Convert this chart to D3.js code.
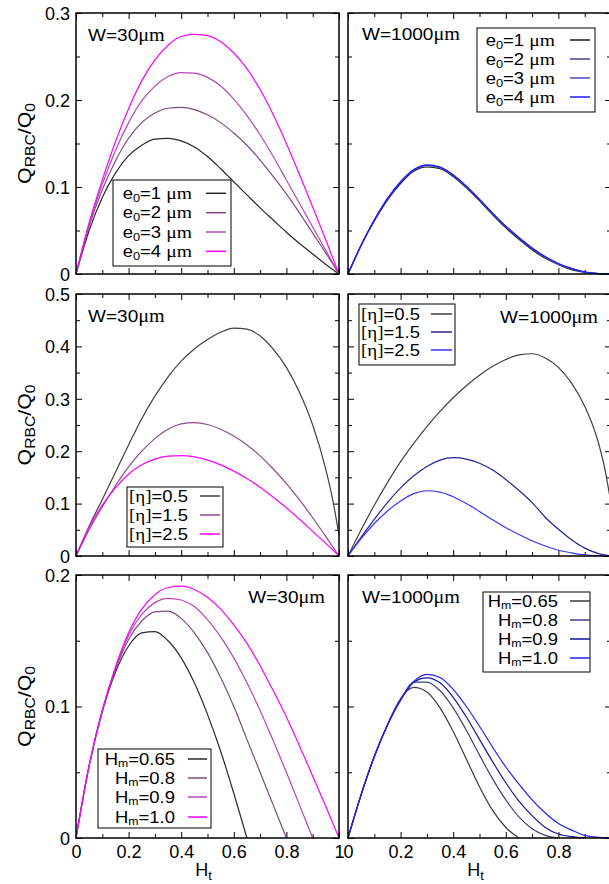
<!DOCTYPE html>
<html><head><meta charset="utf-8">
<script src="https://cdn.jsdelivr.net/npm/d3@7"></script>
<style>body{margin:0;background:#fff}svg{display:block}</style>
</head><body>
<svg id="c" width="609" height="884"></svg>
<script>
// ---------- data ----------
const H  = [0,0.05,0.1,0.15,0.2,0.25,0.3,0.35,0.4,0.45,0.5,0.55,0.6,0.65,0.7,0.75,0.8,0.85,0.9,0.95,1];
const H3 = [0,0.05,0.1,0.15,0.2,0.25,0.3,0.35,0.4,0.45,0.5,0.55,0.6,0.65,0.7,0.75,0.8,0.85,0.9,0.95,0.975,1];
const tickX = [0,0.2,0.4,0.6,0.8,1];
const tickXLabelsLeft  = ["0","0.2","0.4","0.6","0.8","1"];
const tickXLabelsRight = ["0","0.2","0.4","0.6","0.8",""];

// W=30um, e0 = 1..4
const w30_e0_1 = [0,0.05,0.088,0.116,0.136,0.148,0.155,0.156,0.153,0.146,0.135,0.121,0.106,0.091,0.076,0.062,0.048,0.035,0.023,0.011,0];
const w30_e0_2 = [0,0.055,0.097,0.13,0.156,0.174,0.185,0.1905,0.1915,0.189,0.183,0.174,0.162,0.148,0.131,0.112,0.092,0.07,0.047,0.024,0];
const w30_e0_3 = [0,0.057,0.103,0.142,0.174,0.199,0.216,0.227,0.2315,0.231,0.226,0.216,0.201,0.182,0.16,0.135,0.108,0.081,0.054,0.027,0];
const w30_e0_4 = [0,0.059,0.108,0.152,0.19,0.222,0.246,0.263,0.273,0.2755,0.274,0.267,0.254,0.236,0.212,0.183,0.15,0.114,0.077,0.039,0];
// W=1000um, e0 = 1..4
const w1000_e0_1 = [0,0.033,0.061,0.085,0.104,0.118,0.123,0.121,0.112,0.099,0.084,0.068,0.053,0.04,0.028,0.018,0.011,0.005,0.002,0.0005,0];
const w1000_e0_2 = [0,0.033,0.062,0.086,0.105,0.119,0.1245,0.122,0.113,0.1,0.085,0.069,0.054,0.041,0.029,0.019,0.011,0.006,0.002,0.0005,0];
const w1000_e0_3 = [0,0.033,0.062,0.086,0.106,0.1195,0.125,0.1225,0.1135,0.1005,0.0855,0.0695,0.0545,0.0415,0.0295,0.0195,0.0115,0.006,0.002,0.0005,0];
const w1000_e0_4 = [0,0.033,0.062,0.087,0.106,0.12,0.1255,0.123,0.114,0.101,0.086,0.07,0.055,0.042,0.03,0.02,0.012,0.0065,0.0025,0.0006,0];
// W=30um, [eta] = 0.5, 1.5, 2.5
const w30_eta_05 = [0,0.057,0.108,0.16,0.212,0.262,0.305,0.342,0.372,0.395,0.413,0.427,0.435,0.433,0.42,0.395,0.36,0.312,0.25,0.165,0.11,0.04];
const w30_eta_15 = [0,0.05,0.094,0.134,0.17,0.2,0.224,0.242,0.252,0.2545,0.251,0.242,0.229,0.212,0.191,0.166,0.138,0.107,0.073,0.037,0];
const w30_eta_25 = [0,0.055,0.097,0.13,0.156,0.174,0.185,0.1905,0.1915,0.189,0.183,0.174,0.162,0.148,0.131,0.112,0.092,0.07,0.047,0.024,0];
// W=1000um, [eta] = 0.5, 1.5, 2.5
const w1000_eta_05 = [0,0.05,0.097,0.14,0.18,0.215,0.247,0.276,0.302,0.325,0.345,0.362,0.375,0.384,0.386,0.378,0.36,0.33,0.286,0.22,0.17,0.1];
const w1000_eta_15 = [0,0.036,0.07,0.102,0.13,0.153,0.171,0.183,0.1877,0.185,0.177,0.164,0.146,0.125,0.102,0.074,0.051,0.031,0.015,0.005,0];
const w1000_eta_25 = [0,0.033,0.062,0.086,0.105,0.119,0.1245,0.122,0.113,0.1,0.085,0.069,0.054,0.041,0.029,0.019,0.011,0.006,0.002,0.0005,0];
// W=30um, Hm = 0.65, 0.8, 0.9, 1.0
const w30_hm_065 = [0,0.055,0.096,0.126,0.146,0.156,0.157,0.15,0.137,0.118,0.094,0.066,0.034,0];
const w30_hm_08  = [0,0.055,0.097,0.128,0.151,0.165,0.172,0.1725,0.167,0.156,0.141,0.122,0.1,0.075,0.05,0.025,0];
const w30_hm_09  = [0,0.055,0.097,0.129,0.154,0.17,0.179,0.1823,0.181,0.176,0.166,0.153,0.137,0.118,0.097,0.074,0.05,0.025,0];
const w30_hm_10  = [0,0.055,0.097,0.13,0.156,0.174,0.185,0.1905,0.1915,0.189,0.183,0.174,0.162,0.148,0.131,0.112,0.092,0.07,0.047,0.024,0];
// W=1000um, Hm = 0.65, 0.8, 0.9, 1.0
const w1000_hm_065 = [0,0.033,0.062,0.086,0.106,0.1145,0.111,0.099,0.081,0.06,0.039,0.021,0.008,0];
const w1000_hm_08  = [0,0.033,0.062,0.086,0.105,0.1185,0.1185,0.112,0.099,0.082,0.063,0.045,0.029,0.016,0.007,0.002,0];
const w1000_hm_09  = [0,0.033,0.062,0.086,0.105,0.1185,0.1218,0.118,0.107,0.092,0.075,0.058,0.042,0.028,0.017,0.008,0.003,0.001,0];
const w1000_hm_10  = [0,0.033,0.062,0.086,0.105,0.119,0.1245,0.122,0.113,0.1,0.085,0.069,0.054,0.041,0.029,0.019,0.011,0.006,0.002,0.0005,0];

const e0Labels  = ["1","2","3","4"];
const etaLabels = ["0.5","1.5","2.5"];
const hmLabels  = ["0.65","0.8","0.9","1.0"];
const yMax = [0.3, 0.5, 0.2];
const yTicks = [[0,0.1,0.2,0.3],[0,0.1,0.2,0.3,0.4,0.5],[0,0.1,0.2]];
const yTickLabels = [["0","0.1","0.2","0.3"],["0","0.1","0.2","0.3","0.4","0.5"],["0","0.1","0.2"]];

// ---------- layout ----------
const SANS = "'Liberation Sans', Arial, sans-serif";
const SERIF = "'Liberation Serif', 'Times New Roman', serif";
const SX = 1.12; // horizontal stretch of label glyphs
const cols = [[76,339],[348,611]];
const rows = [[13,274],[294,556],[575,838]];

const panels = [
 {c:0,r:0, kind:'e0', labels:e0Labels, xs:[H,H,H,H], ys:[w30_e0_1,w30_e0_2,w30_e0_3,w30_e0_4],
  colors:['#2a2a2a','#804a80','#bb44bb','#ff00ff'], W:'30', wx:88, wy:41, wa:'start',
  box:[113,180,231,266], rowsY:[193.3,212.7,232,251.3], tx:192, lx:[206,226]},
 {c:1,r:0, kind:'e0', labels:e0Labels, xs:[H,H,H,H], ys:[w1000_e0_1,w1000_e0_2,w1000_e0_3,w1000_e0_4],
  colors:['#1a1a1a','#45458a','#4a4ac0','#1a1aff'], W:'1000', wx:362, wy:40, wa:'start',
  box:[477,28,595,112], rowsY:[40,59,78,97], tx:555, lx:[570,590]},
 {c:0,r:1, kind:'eta', labels:etaLabels, xs:[H3,H,H], ys:[w30_eta_05,w30_eta_15,w30_eta_25],
  colors:['#404040','#8f4a8f','#ff00ff'], W:'30', wx:88, wy:322, wa:'start',
  box:[127,487,223,547], rowsY:[496,515,534], tx:188, lx:[200,220]},
 {c:1,r:1, kind:'eta', labels:etaLabels, xs:[H3,H,H], ys:[w1000_eta_05,w1000_eta_15,w1000_eta_25],
  colors:['#404040','#22229a','#3535ff'], W:'1000', wx:598, wy:323, wa:'end',
  box:[359,304,455,365], rowsY:[314,332,350], tx:420, lx:[431,452]},
 {c:0,r:2, kind:'hm', labels:hmLabels, xs:[H,H,H,H], ys:[w30_hm_065,w30_hm_08,w30_hm_09,w30_hm_10],
  colors:['#2a2a2a','#804a80','#bb44bb','#ff00ff'], W:'30', wx:325, wy:603, wa:'end',
  box:[98,749,211,828], rowsY:[759,778,797,817], tx:175, lx:[188,207]},
 {c:1,r:2, kind:'hm', labels:hmLabels, xs:[H,H,H,H], ys:[w1000_hm_065,w1000_hm_08,w1000_hm_09,w1000_hm_10],
  colors:['#3a3a3a','#40407a','#1515a0','#2020ff'], W:'1000', wx:362, wy:603, wa:'start',
  box:[483,592,590,672], rowsY:[601,620,639,658], tx:558, lx:[570,590]}
];

const svg = d3.select('#c');

function stretchedText(g, x, y, anchor, size) {
  return g.append('text').attr('transform', `translate(${x},${y}) scale(${SX},1)`)
    .attr('text-anchor', anchor).attr('font-family', SANS).attr('font-size', size).attr('fill', '#000');
}

function legendLabel(g, kind, val, x, y, anchor) {
  const t = stretchedText(g, x, y, anchor, 16.5);
  if (kind === 'e0') {
    t.append('tspan').text('e');
    t.append('tspan').attr('font-size', 11.5).attr('dy', 3).text('0');
    t.append('tspan').attr('dy', -3).text('=' + val + ' ');
    t.append('tspan').attr('font-family', SERIF).attr('font-size', 17.5).text('\u03bcm');
  } else if (kind === 'eta') {
    t.append('tspan').attr('font-family', SERIF).attr('font-size', 17).text('[\u03b7]');
    t.append('tspan').text('=' + val);
  } else {
    t.append('tspan').text('H');
    t.append('tspan').attr('font-size', 11).attr('dy', 2.5).text('m');
    t.append('tspan').attr('dy', -2.5).text('=' + val);
  }
  return t;
}

panels.forEach(p => {
  const [x0, x1] = cols[p.c];
  const [y0, y1] = rows[p.r];
  const x = d3.scaleLinear().domain([0, 1]).range([x0, x1]);
  const y = d3.scaleLinear().domain([0, yMax[p.r]]).range([y1, y0]);
  const g = svg.append('g');

  const minorX = d3.range(1, 10, 2).map(i => i / 10);
  const minorY = d3.range(1, Math.round(yMax[p.r] / 0.05), 2).map(i => i * 0.05);
  const mk = side => side === 'bottom' ? d3.axisBottom(x) : side === 'top' ? d3.axisTop(x)
                   : side === 'left' ? d3.axisLeft(y) : d3.axisRight(y);
  [['bottom', y1], ['top', y0], ['left', x0], ['right', x1]].forEach(([side, pos]) => {
    const dimX = side === 'bottom' || side === 'top';
    const tr = dimX ? `translate(0,${pos})` : `translate(${pos},0)`;
    const major = mk(side).tickValues(dimX ? tickX : yTicks[p.r]).tickSize(-6).tickSizeOuter(0);
    const minor = mk(side).tickValues(dimX ? minorX : minorY).tickSize(-4).tickSizeOuter(0).tickFormat('');
    const showLab = (side === 'left' && p.c === 0) || (side === 'bottom' && p.r === 2);
    if (showLab) {
      if (dimX) { const labs = p.c === 0 ? tickXLabelsLeft : tickXLabelsRight;
                  major.tickPadding(7).tickFormat((d, i) => labs[i]); }
      else major.tickPadding(6).tickFormat((d, i) => yTickLabels[p.r][i]);
    } else major.tickFormat('');
    const gm = g.append('g').attr('transform', tr).call(major);
    const gn = g.append('g').attr('transform', tr).call(minor);
    [gm, gn].forEach(s => { s.select('.domain').remove(); s.selectAll('line').attr('stroke', '#000').attr('stroke-width', 1); });
    gm.selectAll('text').attr('font-family', SANS).attr('font-size', 18).attr('fill', '#000');
    if (!dimX) gm.selectAll('text').attr('dy', '0.35em');
  });

  // curves
  const line = d3.line().x(d => x(d[0])).y(d => y(d[1])).curve(d3.curveMonotoneX);
  p.ys.forEach((ys, i) => {
    const pts = ys.map((v, j) => [p.xs[i][j], v]);
    g.append('path').attr('d', line(pts)).attr('fill', 'none')
      .attr('stroke', p.colors[i]).attr('stroke-width', 1.2);
  });

  // frame
  g.append('rect').attr('x', x0).attr('y', y0).attr('width', x1 - x0).attr('height', y1 - y0)
    .attr('fill', 'none').attr('stroke', '#000').attr('stroke-width', 1.5);

  // W label
  const wt = stretchedText(g, p.wx, p.wy, p.wa, 17);
  wt.append('tspan').text('W=' + p.W);
  wt.append('tspan').attr('font-family', SERIF).attr('font-size', 18).text('\u03bcm');

  // legend
  const [bx0, by0, bx1, by1] = p.box;
  g.append('rect').attr('x', bx0).attr('y', by0).attr('width', bx1 - bx0).attr('height', by1 - by0)
    .attr('fill', 'none').attr('stroke', '#000').attr('stroke-width', 1);
  p.labels.forEach((lab, i) => {
    const ry = p.rowsY[i];
    legendLabel(g, p.kind, lab, p.tx, ry + 5.5, 'end');
    g.append('line').attr('x1', p.lx[0]).attr('x2', p.lx[1]).attr('y1', ry).attr('y2', ry)
      .attr('stroke', p.colors[i]).attr('stroke-width', 1.5);
  });

  // axis titles
  if (p.c === 0) {
    const yc = (y0 + y1) / 2;
    const t = svg.append('text').attr('transform', `translate(31,${yc}) rotate(-90) scale(1.12,1)`)
      .attr('text-anchor', 'middle').attr('font-family', SANS).attr('font-size', 19).attr('fill', '#000');
    t.append('tspan').text('Q');
    t.append('tspan').attr('font-size', 14).attr('dy', 4).text('RBC');
    t.append('tspan').attr('dy', -4).text('/Q');
    t.append('tspan').attr('font-size', 14).attr('dy', 4).text('0');
  }
  if (p.r === 2) {
    const t = svg.append('text').attr('x', (x0 + x1) / 2 - 4).attr('y', 876)
      .attr('text-anchor', 'middle').attr('font-family', SANS).attr('font-size', 18).attr('fill', '#000');
    t.append('tspan').text('H');
    t.append('tspan').attr('font-size', 13).attr('dy', 4).text('t');
  }
});
</script>
</body></html>
